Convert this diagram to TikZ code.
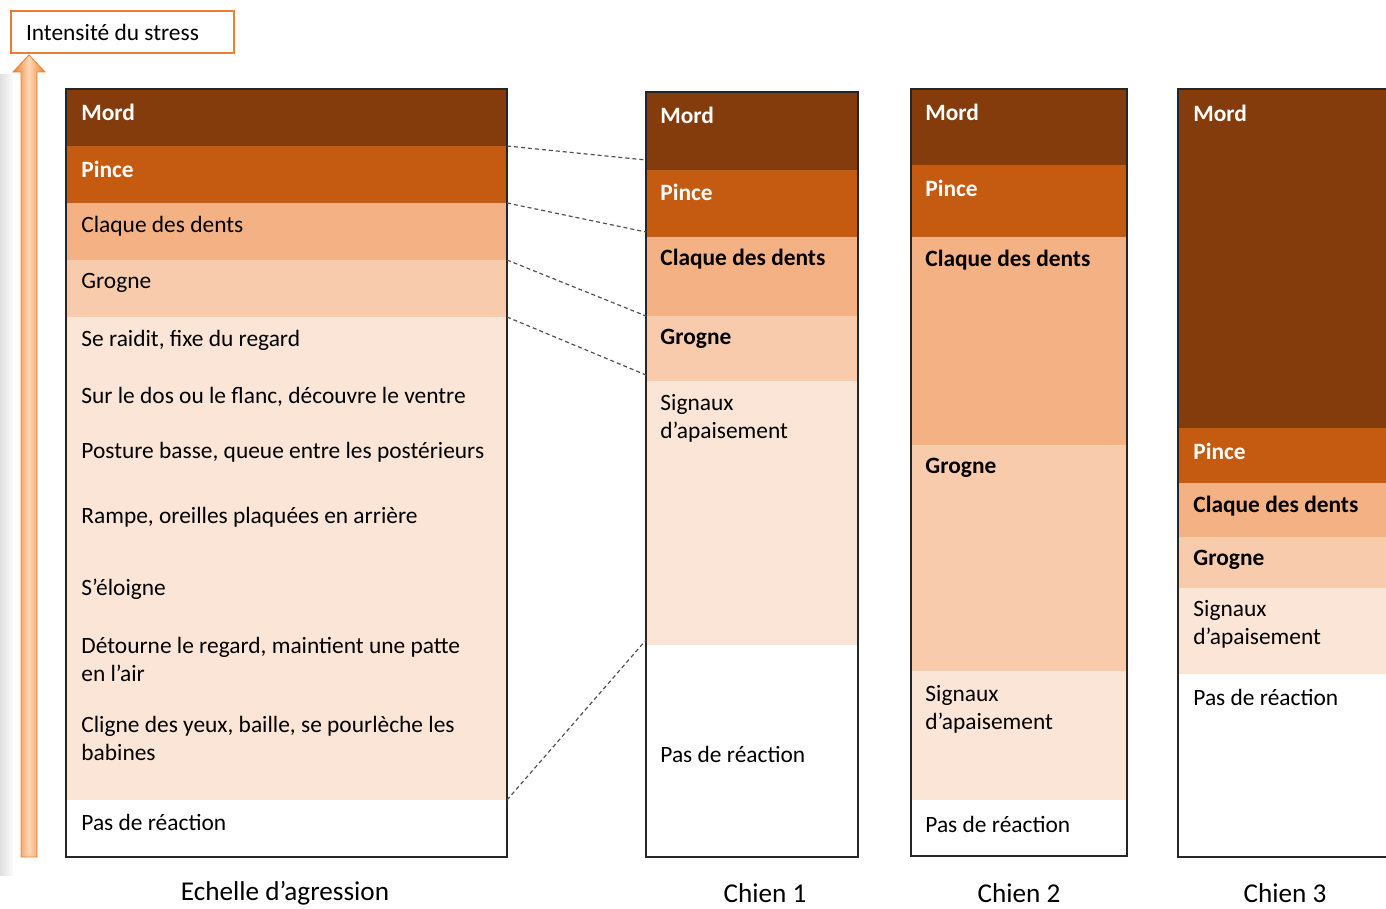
\documentclass[tikz,border=0pt]{standalone}
\usepackage{fontspec}
\setmainfont{Carlito}
\usetikzlibrary{positioning,fit,calc}

\definecolor{mordc}{HTML}{843C0C}
\definecolor{pincec}{HTML}{C55A11}
\definecolor{claquec}{HTML}{F4B183}
\definecolor{grognec}{HTML}{F8CBAD}
\definecolor{signauxc}{HTML}{FBE5D6}
\definecolor{framec}{HTML}{262626}
\definecolor{stressc}{HTML}{ED7D31}
\definecolor{stresslight}{HTML}{FDD9B5}

\begin{document}
\begin{tikzpicture}[
  x=0.5pt, y=-0.5pt,
  font=\fontsize{11.7}{14}\selectfont,
  band/.style={rectangle,inner sep=0pt,outer sep=0pt,anchor=north},
  col0/.style={band,minimum width=220.5pt},
  col1/.style={band,minimum width=106pt},
  col2/.style={band,minimum width=108pt},
  col3/.style={band,minimum width=111pt},
  frame/.style={draw=framec,line width=1pt,inner sep=0pt,outer sep=0pt},
  txt/.style={anchor=west,inner sep=0pt,align=left},
  hot/.style={txt,text=white,font=\fontsize{11.7}{14}\selectfont\bfseries},
  boldtxt/.style={txt,font=\fontsize{11.7}{14}\selectfont\bfseries},
  caption/.style={font=\fontsize{13.6}{16}\selectfont,inner sep=0pt},
  link/.style={draw=framec!80,line width=0.6pt,dash pattern=on 2pt off 1.5pt},
  titlebox/.style={draw=stressc,line width=1pt,anchor=west,inner xsep=7.5pt,
    text width=96.5pt,minimum height=21pt,align=flush left}
]
\useasboundingbox (0,0) rectangle (1386,909);

% stress arrow
\shade[left color=gray!25,right color=white] (0,75) rectangle (14,875);
\shade[left color=stressc,right color=stressc,middle color=stresslight,draw=stressc,line width=0.4pt]
  (21,857) -- (21,72) -- (13,72) -- (29,55) -- (45,72) -- (37,72) -- (37,857) -- cycle;
\node[titlebox] (title) at (10,32) {Intensité du stress};

% echelle
\node[col0,fill=mordc,minimum height=28.5pt,anchor=north west] (m0) at (66,89) {};
\node[col0,fill=pincec,minimum height=28.5pt,below=0pt of m0] (p0) {};
\node[col0,fill=claquec,minimum height=28.5pt,below=0pt of p0] (c0) {};
\node[col0,fill=grognec,minimum height=28.5pt,below=0pt of c0] (g0) {};
\node[col0,fill=signauxc,minimum height=241.5pt,below=0pt of g0] (s0) {};
\node[col0,fill=white,minimum height=28.5pt,below=0pt of s0] (n0) {};
\node[frame,fit=(m0)(n0)] (f0) {};

\node[hot] (t0a) at (81,112) {Mord};
\node[hot] (t0b) at (81,169) {Pince};
\node[txt] (t0c) at (81,226) {Claque des dents};
\node[txt] (t0d) at (81,283) {Grogne};
\node[txt] (t0e) at (81,340) {Se raidit, fixe du regard};
\node[txt] (t0f) at (81,397) {Sur le dos ou le flanc, découvre le ventre};
\node[txt] (t0g) at (81,452) {Posture basse, queue entre les postérieurs};
\node[txt] (t0h) at (81,517) {Rampe, oreilles plaquées en arrière};
\node[txt] (t0i) at (81,589) {S’éloigne};
\node[txt] (t0j) at (81,659) {Détourne le regard, maintient une patte\\en l’air};
\node[txt] (t0k) at (81,738) {Cligne des yeux, baille, se pourlèche les\\babines};
\node[txt] (t0l) at (81,822) {Pas de réaction};

% chien 1
\node[col1,fill=mordc,minimum height=39pt,anchor=north west] (m1) at (646,92) {};
\node[col1,fill=pincec,minimum height=33.5pt,below=0pt of m1] (p1) {};
\node[col1,fill=claquec,minimum height=39.5pt,below=0pt of p1] (c1) {};
\node[col1,fill=grognec,minimum height=32.5pt,below=0pt of c1] (g1) {};
\node[col1,fill=signauxc,minimum height=132pt,below=0pt of g1] (s1) {};
\node[col1,fill=white,minimum height=106pt,below=0pt of s1] (n1) {};
\node[frame,fit=(m1)(n1)] (f1) {};

\node[hot] (t1a) at (660,115) {Mord};
\node[hot] (t1b) at (660,192) {Pince};
\node[boldtxt] (t1c) at (660,259) {Claque des dents};
\node[boldtxt] (t1d) at (660,339) {Grogne};
\node[txt] (t1e) at (660,418) {Signaux\\d’apaisement};
\node[txt] (t1f) at (660,754) {Pas de réaction};

% chien 2
\node[col2,fill=mordc,minimum height=38pt,anchor=north west] (m2) at (911,89) {};
\node[col2,fill=pincec,minimum height=36pt,below=0pt of m2] (p2) {};
\node[col2,fill=claquec,minimum height=104pt,below=0pt of p2] (c2) {};
\node[col2,fill=grognec,minimum height=113pt,below=0pt of c2] (g2) {};
\node[col2,fill=signauxc,minimum height=64.5pt,below=0pt of g2] (s2) {};
\node[col2,fill=white,minimum height=28pt,below=0pt of s2] (n2) {};
\node[frame,fit=(m2)(n2)] (f2) {};

\node[hot] (t2a) at (925,112) {Mord};
\node[hot] (t2b) at (925,188) {Pince};
\node[boldtxt] (t2c) at (925,260) {Claque des dents};
\node[boldtxt] (t2d) at (925,468) {Grogne};
\node[txt] (t2e) at (925,709) {Signaux\\d’apaisement};
\node[txt] (t2f) at (925,824) {Pas de réaction};

% chien 3
\node[col3,fill=mordc,minimum height=169.5pt,anchor=north west] (m3) at (1178,89) {};
\node[col3,fill=pincec,minimum height=27.5pt,below=0pt of m3] (p3) {};
\node[col3,fill=claquec,minimum height=27pt,below=0pt of p3] (c3) {};
\node[col3,fill=grognec,minimum height=25.5pt,below=0pt of c3] (g3) {};
\node[col3,fill=signauxc,minimum height=43pt,below=0pt of g3] (s3) {};
\node[col3,fill=white,minimum height=91.5pt,below=0pt of s3] (n3) {};
\node[frame,fit=(m3)(n3)] (f3) {};

\node[hot] (t3a) at (1193,113) {Mord};
\node[hot] (t3b) at (1193,451) {Pince};
\node[boldtxt] (t3c) at (1193,506) {Claque des dents};
\node[boldtxt] (t3d) at (1193,560) {Grogne};
\node[txt] (t3e) at (1193,624) {Signaux\\d’apaisement};
\node[txt] (t3f) at (1193,697) {Pas de réaction};

% links echelle -> chien 1
\draw[link] (m0.south east) -- ([yshift=5pt]m1.south west);
\draw[link] (p0.south east) -- ([yshift=2.5pt]p1.south west);
\draw[link] (c0.south east) -- (c1.south west);
\draw[link] (g0.south east) -- ([yshift=3pt]g1.south west);
\draw[link] (s0.south east) -- ([yshift=2.5pt]s1.south west);

% captions
\node[caption] (cap0) at (285,893) {Echelle d’agression};
\node[caption] (cap1) at (765,893) {Chien 1};
\node[caption] (cap2) at (1019,893) {Chien 2};
\node[caption] (cap3) at (1285,893) {Chien 3};

\end{tikzpicture}
\end{document}
